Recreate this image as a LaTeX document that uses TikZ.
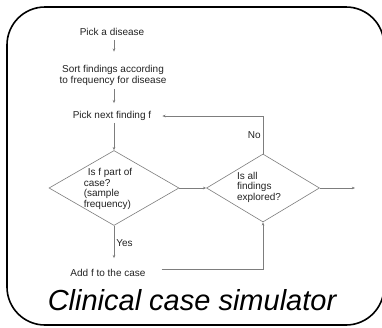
\documentclass[tikz,border=0pt]{standalone}
\usepackage{fontspec}
\setmainfont{Liberation Sans}
\usepackage{tikz}
\usetikzlibrary{shapes.geometric,arrows.meta,positioning,calc}
\definecolor{flowline}{RGB}{125,125,125}
\definecolor{flowtext}{RGB}{35,35,35}
\tikzset{
  flowtxt/.style={inner sep=4pt, font=\fontsize{10}{11}\selectfont,
                  text=flowtext, align=center},
  qtxt/.style={inner sep=0pt, font=\fontsize{10}{10.5}\selectfont,
               text=flowtext, align=left},
  decision/.style={diamond, draw=flowline, line width=0.6pt, inner sep=0pt},
  lbl/.style={inner sep=2pt, font=\fontsize{10}{11}\selectfont, text=flowtext},
}

\begin{document}
\begin{tikzpicture}[x=1pt, y=-1pt,
  arr/.style={-{Stealth[length=3.2pt,width=2.6pt]}, flowline, line width=0.6pt},
  frame/.style={line width=1.6pt, rounded corners=38pt}
]
  \useasboundingbox (0,0) rectangle (382,327);
  \fill[white] (0,0) rectangle (382,327);
  \draw[frame] (7,7) rectangle (384,325);

  \node[flowtxt] (disease) at (112,32) {Pick a disease};
  \node[flowtxt] (sort) at (113,75) {Sort findings according\\to frequency for disease};
  \node[flowtxt] (next) at (112,116) {Pick next finding f};
  \node[decision, minimum width=130pt, minimum height=75pt] (q1) at (114,188) {};
  \node[qtxt] (q1txt) at (108,189) {\hspace*{4pt}Is f part of\\case?\\(sample\\frequency)};
  \node[decision, minimum width=113pt, minimum height=68pt] (q2) at (263,188) {};
  \node[qtxt] (q2txt) at (259,187) {Is all\\findings\\explored?};
  \node[flowtxt] (add) at (108,273) {Add f to the case};
  \coordinate (exit) at (355,188);
  \node[font=\fontsize{29}{32}\selectfont\itshape, inner sep=0pt, anchor=base]
    (title) at (192,310) {Clinical case simulator};

  \draw[arr, shorten >=9pt] (disease.south -| q1) -- (sort.north -| q1);
  \draw[arr, shorten >=4pt] (sort.south -| q1) -- (next.north -| q1);
  \draw[arr, shorten <=-2pt] (next.south -| q1) -- (q1.north);
  \draw[arr] (q1.east) -- (q2.west);
  \draw[arr] (q2.east) -- (exit);
  \draw[arr, shorten >=7pt] (q2.north) |- node[lbl, left, pos=0.25] {No} (next.east);
  \draw[arr, shorten >=7pt] (q1.south) -- node[lbl, right, pos=0.45] {Yes} (q1.south |- add.north);
  \draw[arr, shorten <=12pt] ([yshift=4pt]add.east) -| (q2.south);
\end{tikzpicture}
\end{document}
